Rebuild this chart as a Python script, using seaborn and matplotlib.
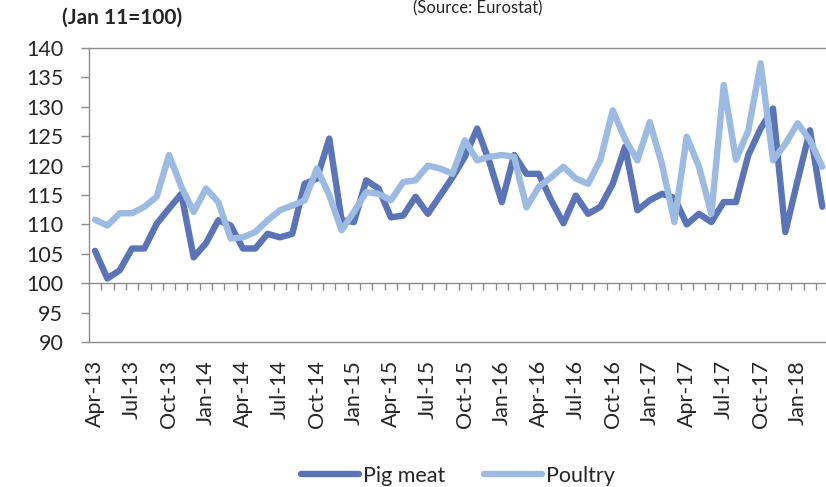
"""
Pig meat vs poultry price index (Jan 11=100), monthly Apr-13 to Mar-18
"""

import pandas as pd
import matplotlib.pyplot as plt
import seaborn as sns

months = pd.date_range("2013-04-01", "2018-03-01", freq="MS")
month_labels = [d.strftime("%b-%y") for d in months]

pig_meat = [
    105.5, 100.8, 102.2, 105.9, 105.9, 110.1, 112.7, 115.2, 104.4, 106.8,
    110.7, 109.8, 105.9, 105.9, 108.4, 107.8, 108.4, 116.9, 117.8, 124.6,
    110.7, 110.4, 117.5, 116.1, 111.2, 111.5, 114.7, 111.8, 114.9, 118.0,
    121.5, 126.3, 120.6, 113.8, 121.8, 118.6, 118.6, 114.1, 110.2, 114.9,
    111.8, 113.0, 116.9, 123.2, 112.4, 114.1, 115.2, 114.5, 110.0, 111.8,
    110.4, 113.8, 113.8, 121.8, 126.3, 129.7, 108.7, 117.5, 126.0, 113.0,
]
poultry = [
    110.8, 109.8, 111.9, 111.9, 113.0, 114.7, 121.8, 116.4, 112.1, 116.1,
    113.8, 107.6, 107.8, 108.7, 110.7, 112.4, 113.2, 114.1, 119.5, 115.0,
    109.0, 112.1, 115.5, 115.2, 114.1, 117.2, 117.5, 120.0, 119.5, 118.6,
    124.3, 120.9, 121.5, 121.8, 121.5, 112.9, 116.4, 118.0, 119.8, 117.8,
    116.9, 121.0, 129.4, 124.5, 120.9, 127.4, 120.2, 110.4, 124.9, 119.8,
    111.8, 133.7, 121.0, 126.0, 137.4, 120.9, 123.7, 127.2, 124.3, 119.8,
]
series_names = ["Pig meat", "Poultry"]
colors = ["#5b73b7", "#9dbae3"]

df = pd.DataFrame({
    "idx": list(range(len(months))) * 2,
    "value": pig_meat + poultry,
    "series": [series_names[0]] * len(months) + [series_names[1]] * len(months),
})

sns.set_style("white")
plt.rcParams["font.family"] = ["Lato", "DejaVu Sans"]

fig = plt.figure(figsize=(8.26, 4.87), dpi=100)
ax = fig.add_axes([89 / 826, 1 - 342 / 487, 1 - 89 / 826, (342 - 48) / 487])

sns.lineplot(data=df, x="idx", y="value", hue="series", palette=colors,
             linewidth=4.6, ax=ax, legend=False)

ax.set_xlim(-0.49, 59.3)
ax.set_ylim(90, 140)
ax.set_yticks(range(90, 141, 5))
ax.set_xticks(range(0, len(months), 3))
ax.set_xticklabels(month_labels[::3], rotation=90)
ax.set_xlabel("")
ax.set_ylabel("")

gray = "#8c8c8c"
for side in ["left", "top", "bottom"]:
    ax.spines[side].set_color(gray)
    ax.spines[side].set_linewidth(1.0)
ax.spines["right"].set_visible(False)

ax.tick_params(axis="y", direction="out", length=5.5, width=1, color=gray,
               pad=13, labelsize=15.5, left=True)
ax.tick_params(axis="x", length=0, pad=13, labelsize=15.5)

# category axis crossing at 100 with monthly tick marks
sec = ax.secondary_xaxis(0.2)
sec.set_xticks([i + 0.5 for i in range(len(months))])
sec.set_xticklabels([])
sec.tick_params(direction="out", length=5, width=1, color=gray)
sec.spines["bottom"].set_color(gray)
sec.spines["bottom"].set_linewidth(1.0)

fig.text(62 / 826, 1 - 18 / 487, "(Jan 11=100)", fontsize=15, fontweight="bold",
         va="center", ha="left")
fig.text(478 / 826, 0.999, "(Source: Eurostat)", fontsize=12,
         va="top", ha="center")

handles = [plt.Line2D([], [], color=c, linewidth=4.6) for c in colors]
fig.legend(handles, series_names, loc="center", ncol=2, frameon=False,
           bbox_to_anchor=(458 / 826, 1 - 476 / 487), fontsize=15.5,
           handlelength=2.7, handletextpad=0.2, columnspacing=1.8)

fig.savefig("out.png", dpi=100)
